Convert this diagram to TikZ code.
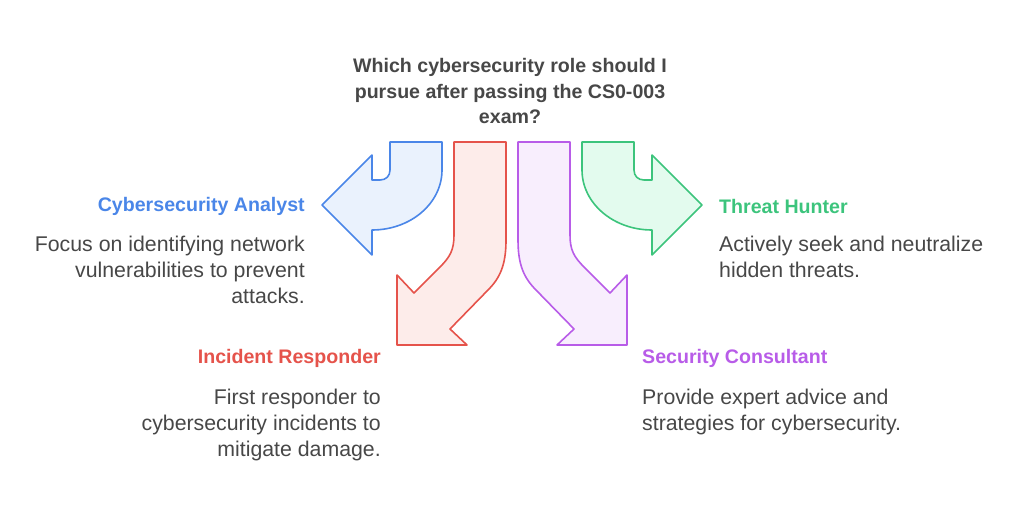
\documentclass[tikz,border=0pt]{standalone}
\usepackage{fontspec}
\setmainfont{Liberation Sans}
\definecolor{tx}{HTML}{474747}
\definecolor{cb}{HTML}{4A86E8}\definecolor{fb}{HTML}{EAF2FD}
\definecolor{cr}{HTML}{E5534B}\definecolor{fr}{HTML}{FDECEA}
\definecolor{cp}{HTML}{B85CE8}\definecolor{fp}{HTML}{F8EEFD}
\definecolor{cg}{HTML}{3CC47C}\definecolor{fg}{HTML}{E3FBEE}
\begin{document}
\begin{tikzpicture}[x=1pt,y=-1pt,
 arr/.style={line width=1.6pt,line join=round},
 ttl/.style={font=\fontsize{19.6}{25.5}\selectfont\bfseries,inner sep=0pt},
 body/.style={font=\fontsize{21.3}{26}\selectfont,text=tx,inner sep=0pt}]
\useasboundingbox (0,0) rectangle (1024,513);
% blue
\draw[arr,draw=cb,fill=fb] (390,142) -- (442,142) -- (442,170) .. controls (442,203) and (411,230) .. (372,230) -- (372,255) -- (322,205) -- (372,155) -- (372,180) -- (380,180) .. controls (386,180) and (390,176) .. (390,170) -- cycle;
% green
\draw[arr,draw=cg,fill=fg] (634,142) -- (582,142) -- (582,170) .. controls (582,203) and (613,230) .. (652,230) -- (652,255) -- (702,205) -- (652,155) -- (652,180) -- (644,180) .. controls (638,180) and (634,176) .. (634,170) -- cycle;
% red
\draw[arr,draw=cr,fill=fr] (454,142) -- (506,142) -- (506,240) .. controls (506,265) and (500,278) .. (488,290) -- (450,329) -- (467,345) -- (397,345) -- (397,275) -- (414,293) -- (440,267) .. controls (450,257) and (454,250) .. (454,235) -- cycle;
% purple
\draw[arr,draw=cp,fill=fp] (570,142) -- (518,142) -- (518,240) .. controls (518,265) and (524,278) .. (536,290) -- (574,329) -- (557,345) -- (627,345) -- (627,275) -- (610,293) -- (584,267) .. controls (574,257) and (570,250) .. (570,235) -- cycle;
% texts
\node[ttl,text=tx,align=center] (q) at (510,91) {Which cybersecurity role should I\\pursue after passing the CS0-003\\exam?};
\node[ttl,text=cb,anchor=east] (ca) at (305,206) {Cybersecurity Analyst};
\node[body,anchor=north east,align=right] (cad) at (305,236) {Focus on identifying network\\vulnerabilities to prevent\\attacks.};
\node[ttl,text=cg,anchor=west] (th) at (719,206) {Threat Hunter};
\node[body,anchor=north west,align=left] (thd) at (719,236) {Actively seek and neutralize\\hidden threats.};
\node[ttl,text=cr,anchor=east] (ir) at (381,358) {Incident Responder};
\node[body,anchor=north east,align=right] (ird) at (381,389) {First responder to\\cybersecurity incidents to\\mitigate damage.};
\node[ttl,text=cp,anchor=west] (sc) at (642,358) {Security Consultant};
\node[body,anchor=north west,align=left] (scd) at (642,389) {Provide expert advice and\\strategies for cybersecurity.};
\end{tikzpicture}
\end{document}
